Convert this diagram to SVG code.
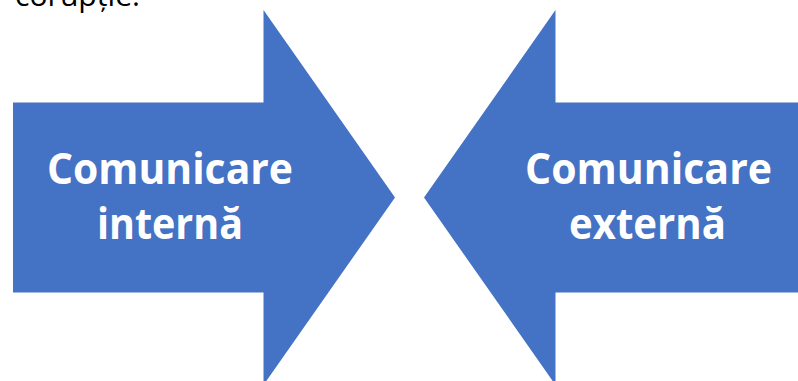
<svg xmlns="http://www.w3.org/2000/svg" width="798" height="381" viewBox="0 0 798 381">
<style>
.arrow{fill:#4472C4}
.lbl{font-family:"Open Sans","Noto Sans",sans-serif;font-weight:bold;font-size:43px;fill:#ffffff;text-anchor:middle}
.top{font-family:"Open Sans","Noto Sans",sans-serif;font-size:30px;fill:#000000}
</style>
<rect width="798" height="381" fill="#ffffff"/>
<text class="top" x="15" y="6" textLength="125" lengthAdjust="spacingAndGlyphs">corupție:</text>
<g id="node-internal">
<polygon class="arrow" points="13,102.5 263.5,102.5 263.5,10 395,197.5 263.5,385 263.5,292.5 13,292.5"/>
<text class="lbl" x="170" y="184" textLength="246" lengthAdjust="spacingAndGlyphs">Comunicare</text>
<text class="lbl" x="170" y="239" textLength="146" lengthAdjust="spacingAndGlyphs">internă</text>
</g>
<g id="node-external">
<polygon class="arrow" points="800,102.5 555.5,102.5 555.5,10 424,197.5 555.5,385 555.5,292.5 800,292.5"/>
<text class="lbl" x="648.5" y="184" textLength="247" lengthAdjust="spacingAndGlyphs">Comunicare</text>
<text class="lbl" x="647.5" y="239" textLength="157" lengthAdjust="spacingAndGlyphs">externă</text>
</g>
<g id="connectors"></g>
</svg>
